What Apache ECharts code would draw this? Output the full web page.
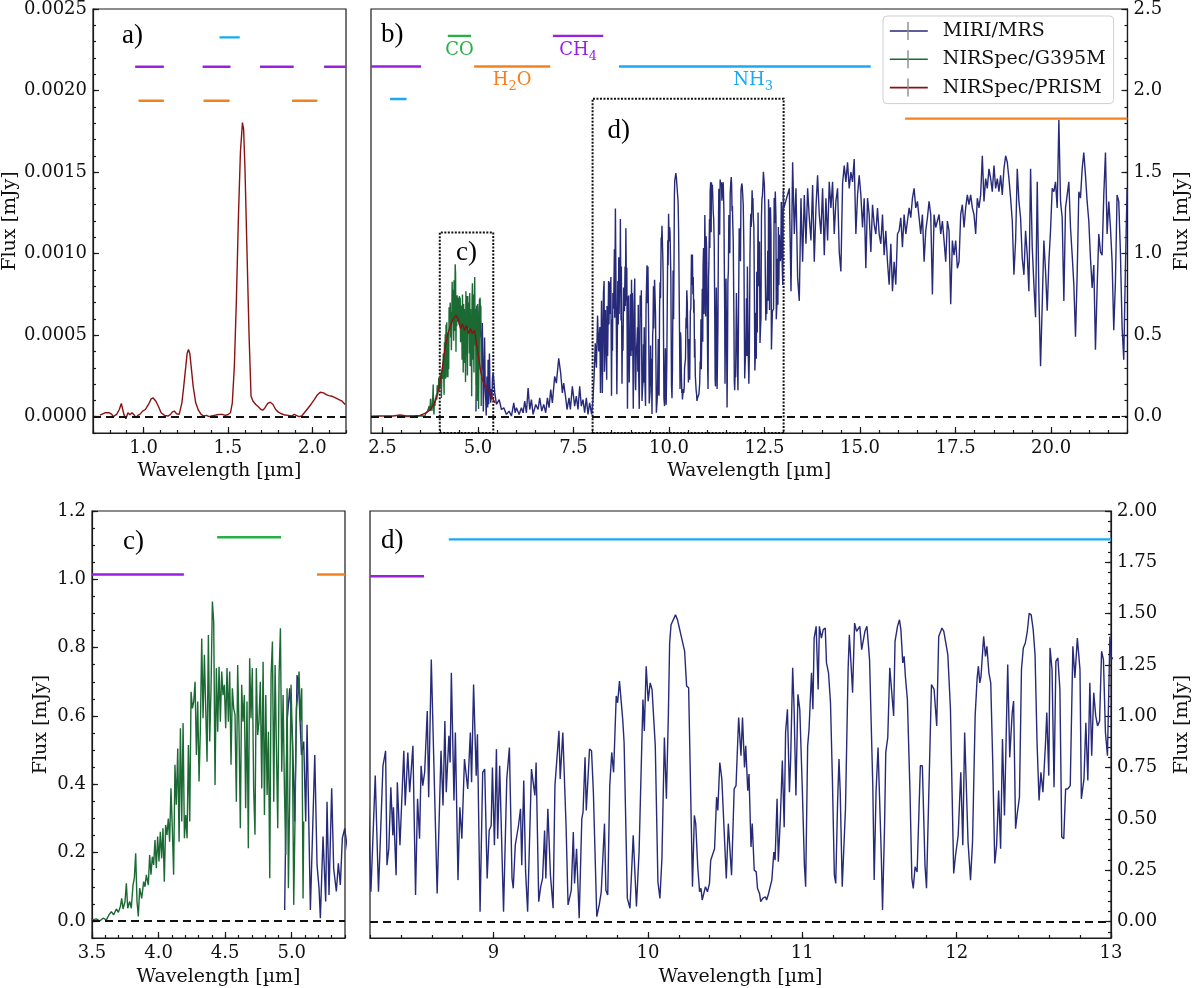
<!DOCTYPE html>
<html>
<head>
<meta charset="utf-8">
<title>Spectrum panels</title>
<script src="https://cdn.jsdelivr.net/npm/echarts@6.0.0/dist/echarts.min.js"></script>
<style>
  html, body { margin: 0; padding: 0; background: #fff; }
  #chart { width: 1200px; height: 988px; }
</style>
</head>
<body>
<div id="chart"></div>
<script>
// ---- data ----
const seriesNames = ['MIRI/MRS', 'NIRSpec/G395M', 'NIRSpec/PRISM'];

// tick values per panel
const xTicksA = [1.0, 1.5, 2.0];
const yTicksA = [0, 0.0005, 0.0010, 0.0015, 0.0020, 0.0025];
const xTicksB = [2.5, 5.0, 7.5, 10.0, 12.5, 15.0, 17.5, 20.0];
const yTicksB = [0, 0.5, 1.0, 1.5, 2.0, 2.5];
const xTicksC = [3.5, 4.0, 4.5, 5.0];
const yTicksC = [0, 0.2, 0.4, 0.6, 0.8, 1.0, 1.2];
const xTicksD = [9, 10, 11, 12, 13];
const yTicksD = [0, 0.25, 0.5, 0.75, 1.0, 1.25, 1.5, 1.75, 2.0];

// NIRSpec/PRISM, 0.7-2.2 um (panel a units)
const prismA = [
  [0.741,0.00001],[0.771,0.000024],[0.781,0.000012],[0.797,0.000024],[0.810,0.000016],[0.820,0.0],
  [0.840,0.000014],[0.856,0.000044],[0.868,0.000081],[0.876,0.000069],[0.883,0.000014],[0.895,-0.000012],
  [0.907,0.000024],[0.919,0.000012],[0.931,0.000024],[0.943,0.000012],[0.954,-0.000006],[0.966,0.000008],
  [0.978,0.000014],[0.994,0.000034],[1.010,0.000044],[1.029,0.000075],[1.045,0.000109],[1.057,0.000115],
  [1.073,0.000095],[1.089,0.000061],[1.104,0.000024],[1.124,0.000008],[1.144,0.000004],[1.160,0.000014],
  [1.171,0.000030],[1.183,0.000034],[1.195,0.000018],[1.211,0.000014],[1.227,0.000085],[1.238,0.000186],
  [1.250,0.000307],[1.258,0.000388],[1.266,0.000412],[1.274,0.000388],[1.282,0.000307],[1.294,0.000186],
  [1.309,0.000085],[1.325,0.000040],[1.341,0.000014],[1.357,0.000004],[1.373,0.000008],[1.388,0.0],
  [1.404,0.000004],[1.420,0.000008],[1.436,0.000012],[1.451,0.000014],[1.467,0.000014],[1.483,0.000008],
  [1.499,0.000012],[1.515,0.000024],[1.526,0.000085],[1.538,0.000307],[1.550,0.000711],[1.562,0.001217],
  [1.574,0.001621],[1.586,0.001803],[1.593,0.001762],[1.601,0.001520],[1.613,0.001015],[1.625,0.000509],
  [1.637,0.000125],[1.649,0.000095],[1.665,0.000075],[1.680,0.000061],[1.696,0.000044],[1.708,0.000040],
  [1.720,0.000055],[1.736,0.000081],[1.751,0.000089],[1.767,0.000075],[1.783,0.000044],[1.799,0.000028],
  [1.818,0.000018],[1.838,0.000010],[1.858,0.000008],[1.878,0.000004],[1.893,0.000014],[1.905,0.000008],
  [1.921,0.0],[1.937,0.000004],[1.953,0.000024],[1.972,0.000049],[1.992,0.000075],[2.012,0.000105],
  [2.031,0.000135],[2.047,0.000150],[2.067,0.000146],[2.083,0.000135],[2.098,0.000129],[2.118,0.000125],
  [2.138,0.000115],[2.158,0.000105],[2.177,0.000095],[2.195,0.000075]
];

// NIRSpec/PRISM, 2.2-5.45 um
const prismB = [
  [2.20,0.003],[2.435,0.004],[2.784,0.004],[2.958,0.010],[3.132,0.004],[3.306,0.004],[3.480,0.008],
  [3.611,0.020],[3.742,0.040],[3.846,0.075],[3.934,0.135],[4.003,0.206],[4.073,0.307],[4.143,0.429],
  [4.212,0.509],[4.282,0.560],[4.352,0.600],[4.421,0.621],[4.482,0.600],[4.543,0.540],[4.595,0.570],
  [4.648,0.530],[4.700,0.560],[4.752,0.509],[4.805,0.540],[4.857,0.509],[4.909,0.530],[4.961,0.449],
  [5.014,0.368],[5.066,0.287],[5.118,0.226],[5.170,0.196],[5.240,0.176],[5.310,0.146],[5.379,0.115],
  [5.449,0.085]
];

// NIRSpec/G395M
const g395m = [
  [2.90,0.002],[3.05,0.0],[3.20,0.003],[3.35,0.001],[3.45,0.004],
  [3.500,0.003],[3.533,0.006],[3.558,0.000],[3.583,0.008],[3.608,0.003],[3.625,0.016],[3.645,0.027],
  [3.663,0.018],[3.683,0.035],[3.698,0.025],[3.713,0.042],[3.723,0.066],[3.733,0.035],[3.748,0.057],
  [3.758,0.110],[3.768,0.037],[3.783,0.057],[3.795,0.037],[3.808,0.105],[3.818,0.125],[3.828,0.198],
  [3.838,0.057],[3.848,0.013],[3.858,0.096],[3.873,0.066],[3.888,0.115],[3.898,0.100],[3.908,0.135],
  [3.923,0.105],[3.933,0.193],[3.943,0.135],[3.953,0.188],[3.963,0.164],[3.973,0.237],[3.983,0.154],
  [3.993,0.247],[4.003,0.174],[4.013,0.261],[4.023,0.183],[4.033,0.271],[4.043,0.115],[4.053,0.281],
  [4.063,0.252],[4.073,0.300],[4.083,0.232],[4.093,0.388],[4.103,0.271],[4.113,0.135],[4.123,0.457],
  [4.133,0.340],[4.144,0.505],[4.154,0.232],[4.164,0.564],[4.174,0.291],[4.184,0.579],[4.194,0.242],
  [4.204,0.310],[4.214,0.242],[4.224,0.515],[4.234,0.291],[4.244,0.671],[4.254,0.622],[4.264,0.642],
  [4.274,0.700],[4.284,0.486],[4.294,0.642],[4.304,0.408],[4.314,0.564],[4.324,0.827],[4.334,0.593],
  [4.344,0.779],[4.354,0.622],[4.364,0.466],[4.374,0.837],[4.384,0.525],[4.394,0.681],[4.404,0.935],
  [4.414,0.876],[4.424,0.398],[4.434,0.740],[4.444,0.554],[4.454,0.744],[4.464,0.583],[4.474,0.730],
  [4.484,0.661],[4.494,0.691],[4.504,0.564],[4.514,0.740],[4.524,0.583],[4.534,0.730],[4.544,0.457],
  [4.554,0.681],[4.564,0.622],[4.574,0.603],[4.584,0.349],[4.594,0.749],[4.604,0.564],[4.614,0.271],
  [4.624,0.691],[4.634,0.583],[4.644,0.661],[4.654,0.330],[4.664,0.642],[4.674,0.213],[4.684,0.769],
  [4.694,0.593],[4.704,0.740],[4.714,0.388],[4.724,0.252],[4.734,0.740],[4.744,0.544],[4.754,0.583],
  [4.764,0.700],[4.775,0.388],[4.785,0.759],[4.795,0.310],[4.805,0.661],[4.815,0.369],[4.825,0.554],
  [4.835,0.125],[4.845,0.720],[4.855,0.818],[4.865,0.349],[4.875,0.749],[4.885,0.505],[4.895,0.271],
  [4.905,0.720],[4.915,0.857],[4.925,0.437],[4.935,0.661],[4.945,0.388],[4.955,0.193],[4.965,0.681],
  [4.975,0.096],[4.985,0.369],[4.995,0.691],[5.005,0.515],[5.015,0.047],[5.025,0.310],[5.035,0.622],
  [5.045,0.661],[5.055,0.730],[5.065,0.583],[5.075,0.681],[5.085,0.066],[5.090,0.291]
];

// MIRI/MRS, 4.95-8.2 um
const miriShort = [
  [4.947,0.032],[4.965,0.583],[4.985,0.681],[5.005,0.544],[5.022,0.291],[5.040,0.720],[5.055,0.661],
  [5.073,0.486],[5.090,0.525],[5.105,0.291],[5.115,0.574],[5.140,0.032],[5.173,0.486],[5.190,0.164],
  [5.205,0.096],[5.215,0.008],[5.235,0.247],[5.255,0.057],[5.265,0.349],[5.280,0.076],[5.300,0.388],
  [5.315,0.154],[5.335,0.086],[5.350,0.169],[5.365,0.105],[5.380,0.242],[5.398,0.271],
  [5.440,0.146],[5.484,0.075],[5.554,0.105],[5.615,0.044],[5.676,0.055],[5.745,0.014],[5.815,0.034],
  [5.876,0.004],[5.937,0.085],[5.972,0.024],[6.007,0.055],[6.076,0.014],[6.137,0.055],[6.181,0.024],
  [6.224,0.095],[6.268,0.024],[6.312,0.176],[6.355,0.044],[6.399,0.105],[6.442,0.014],[6.512,0.075],
  [6.573,0.044],[6.616,0.115],[6.669,0.034],[6.721,0.075],[6.773,0.024],[6.817,0.115],[6.860,0.055],
  [6.904,0.166],[6.947,0.085],[7.008,0.247],[7.052,0.206],[7.113,0.358],[7.165,0.267],[7.209,0.146],
  [7.244,0.206],[7.296,0.115],[7.331,0.044],[7.383,0.115],[7.418,0.044],[7.470,0.186],[7.531,0.065],
  [7.574,0.126],[7.618,0.044],[7.662,0.186],[7.705,0.065],[7.749,0.105],[7.792,0.024],[7.836,0.115],
  [7.880,0.014],[7.923,0.085],[7.975,0.014],[8.010,0.105],
  [8.04,0.25],[8.07,0.45],[8.10,0.30],[8.13,0.62],[8.16,0.40],[8.19,0.55]
];

// MIRI/MRS, 8.2-13 um
const miriMid = [
  [8.206,0.145],[8.234,0.711],[8.255,0.145],[8.284,0.759],[8.301,0.832],[8.310,0.275],[8.322,0.355],
  [8.335,0.654],[8.348,0.420],[8.352,0.557],[8.369,0.226],[8.377,0.679],[8.394,0.372],[8.419,0.832],
  [8.428,0.565],[8.445,0.824],[8.457,0.630],[8.478,0.856],[8.495,0.129],[8.508,0.598],[8.521,0.404],
  [8.531,0.759],[8.542,0.662],[8.554,0.727],[8.571,1.026],[8.580,0.606],[8.597,1.276],[8.613,0.792],
  [8.635,0.137],[8.660,0.832],[8.673,0.565],[8.685,0.977],[8.694,0.630],[8.711,0.905],[8.719,0.775],
  [8.727,1.212],[8.744,0.590],[8.753,0.921],[8.770,0.202],[8.782,0.557],[8.795,0.404],[8.812,0.792],
  [8.833,0.646],[8.850,0.921],[8.858,0.679],[8.871,1.155],[8.888,0.711],[8.896,0.913],[8.913,0.048],
  [8.930,0.727],[8.943,0.743],[8.959,0.210],[8.972,0.444],[8.985,0.468],[8.993,0.751],[9.006,0.372],
  [9.019,0.840],[9.027,0.404],[9.040,0.759],[9.065,0.048],[9.086,0.695],[9.103,0.848],[9.120,0.210],
  [9.128,0.162],[9.141,0.372],[9.162,0.468],[9.175,0.549],[9.183,0.275],[9.196,0.687],[9.208,0.242],
  [9.221,0.048],[9.246,0.743],[9.255,0.751],[9.268,0.614],[9.276,0.775],[9.293,0.097],[9.306,0.170],
  [9.318,0.210],[9.331,0.444],[9.339,0.210],[9.352,0.549],[9.369,0.226],[9.386,0.065],[9.398,0.662],
  [9.424,0.929],[9.432,0.695],[9.449,0.921],[9.470,0.468],[9.483,0.081],[9.504,0.153],[9.517,0.436],
  [9.525,0.186],[9.538,0.355],[9.555,0.016],[9.572,0.501],[9.580,0.533],[9.593,0.800],[9.601,0.541],
  [9.622,0.840],[9.635,0.832],[9.647,0.630],[9.669,0.024],[9.685,0.081],[9.698,0.145],[9.719,0.477],
  [9.728,0.153],[9.740,0.129],[9.753,0.662],[9.766,0.824],[9.778,0.727],[9.795,1.099],[9.804,1.066],
  [9.816,1.171],[9.837,0.985],[9.846,0.872],[9.867,0.113],[9.884,0.065],[9.905,0.420],[9.926,0.073],
  [9.943,0.339],[9.968,1.082],[9.977,0.929],[9.989,1.244],[10.002,1.074],[10.015,1.163],[10.027,1.131],
  [10.048,0.856],[10.065,0.194],[10.078,0.113],[10.091,0.307],[10.107,0.897],[10.120,0.598],[10.133,1.018],
  [10.141,1.357],[10.150,1.446],[10.162,1.446],[10.179,1.494],[10.192,1.470],[10.204,1.430],[10.221,1.373],
  [10.238,1.317],[10.251,1.147],[10.264,1.139],[10.289,0.170],[10.301,0.517],[10.310,0.477],[10.323,0.267],
  [10.335,0.145],[10.344,0.162],[10.352,0.105],[10.373,0.170],[10.386,0.145],[10.399,0.186],[10.407,0.299],
  [10.432,0.355],[10.445,0.606],[10.453,0.541],[10.466,0.775],[10.479,0.695],[10.487,0.687],[10.508,0.210],
  [10.521,0.477],[10.542,0.226],[10.559,0.646],[10.571,0.662],[10.588,0.994],[10.603,0.808],
  [10.613,0.994],[10.626,0.751],[10.634,0.856],[10.647,0.638],[10.655,0.719],[10.668,0.363],[10.676,0.477],
  [10.689,0.250],[10.702,0.242],[10.710,0.162],[10.723,0.137],[10.731,0.097],[10.744,0.113],[10.752,0.105],
  [10.761,0.121],[10.769,0.105],[10.782,0.137],[10.795,0.178],[10.803,0.202],[10.816,0.339],[10.824,0.299],
  [10.837,0.598],[10.845,0.291],[10.858,0.501],[10.871,0.784],[10.883,0.460],[10.892,0.921],[10.904,1.034],
  [10.917,0.630],[10.925,0.792],[10.938,1.236],[10.947,1.042],[10.959,0.614],[10.972,1.107],[10.984,1.034],
  [11.001,0.630],[11.014,0.275],[11.022,0.170],[11.035,0.856],[11.044,0.937],[11.060,1.212],[11.069,1.034],
  [11.077,1.381],[11.090,1.438],[11.103,1.131],[11.111,1.438],[11.124,1.381],[11.136,1.422],[11.149,1.430],
  [11.157,1.260],[11.170,1.212],[11.183,1.066],[11.195,0.703],[11.208,0.226],[11.217,0.186],[11.229,0.582],
  [11.238,0.792],[11.246,0.630],[11.259,0.170],[11.280,0.549],[11.297,1.228],[11.305,1.397],[11.318,1.228],
  [11.326,1.115],[11.339,1.454],[11.352,1.414],[11.364,1.414],[11.373,1.438],[11.385,1.325],[11.394,1.333],
  [11.406,1.414],[11.419,1.438],[11.436,1.276],[11.457,0.662],[11.466,0.202],[11.478,0.630],[11.491,0.848],
  [11.499,0.848],[11.512,0.323],[11.520,0.057],[11.533,0.460],[11.541,0.824],[11.554,0.897],[11.567,1.236],
  [11.579,1.236],[11.592,1.002],[11.601,1.365],[11.617,1.438],[11.630,1.470],[11.639,1.422],[11.651,1.260],
  [11.660,1.292],[11.668,1.195],[11.681,1.082],[11.698,0.630],[11.710,0.210],[11.719,0.162],[11.731,0.267],
  [11.744,0.242],[11.765,0.759],[11.778,0.759],[11.795,0.275],[11.805,0.162],
  [11.820,0.630],[11.837,1.155],[11.854,1.131],[11.871,0.953],[11.884,1.389],[11.905,1.430],[11.917,1.414],
  [11.943,1.300],[11.960,1.034],[11.981,0.234],[11.993,0.323],[12.010,0.420],[12.027,0.727],[12.040,0.372],
  [12.052,0.921],[12.061,0.929],[12.074,0.388],[12.090,0.202],[12.103,0.388],[12.120,1.002],[12.133,1.187],
  [12.141,1.244],[12.150,1.163],[12.158,1.195],[12.175,1.389],[12.187,1.292],[12.196,1.341],[12.209,1.212],
  [12.221,1.163],[12.234,0.775],[12.247,0.283],[12.259,0.372],[12.272,0.638],[12.285,0.355],[12.297,0.889],
  [12.310,0.517],[12.331,1.252],[12.344,0.800],[12.360,1.018],[12.369,1.074],[12.382,0.452],[12.394,0.533],
  [12.407,0.606],[12.420,1.228],[12.432,1.333],[12.445,1.357],[12.458,1.414],[12.470,1.502],[12.483,1.494],
  [12.496,1.422],[12.508,1.300],[12.521,0.872],[12.534,0.590],[12.546,0.727],[12.559,0.630],[12.576,0.872],
  [12.584,1.018],[12.597,0.711],[12.605,1.333],[12.618,1.228],[12.631,0.654],[12.643,1.268],[12.656,1.284],
  [12.669,1.131],[12.681,0.412],[12.694,0.404],[12.706,0.646],[12.719,0.646],[12.736,0.662],[12.753,1.341],
  [12.766,1.187],[12.782,1.381],[12.799,1.228],[12.808,0.598],[12.825,0.695],[12.837,0.969],[12.850,0.687],
  [12.863,1.163],[12.875,0.808],[12.888,1.115],[12.901,1.002],[12.913,0.953],[12.926,0.977],[12.939,1.317],
  [12.951,1.276],[12.964,0.921],[12.977,0.808],[12.993,1.389],[13.002,1.276]
];

// MIRI/MRS, 13.1-22 um
const miriLong = [
  [13.149,1.40],[13.193,0.77],[13.236,1.56],[13.280,1.12],[13.323,1.40],[13.367,0.85],[13.410,0.71],[13.454,1.34],[13.497,0.95],[13.541,1.36],
  [13.585,1.06],[13.628,1.40],[13.672,1.22],[13.715,1.08],[13.759,1.42],[13.802,0.95],[13.846,1.28],[13.889,1.48],[13.933,1.24],[13.976,1.12],
  [14.020,1.40],[14.064,0.99],[14.107,1.34],[14.151,1.08],[14.194,1.44],[14.238,1.28],[14.281,1.44],[14.325,1.12],[14.368,1.32],[14.412,1.40],
  [14.456,1.01],[14.499,0.89],[14.543,1.43],[14.586,1.54],[14.630,1.44],[14.673,1.56],[14.717,1.40],[14.760,1.50],[14.804,1.44],[14.847,1.58],
  [14.891,1.12],[14.935,1.36],[14.978,1.48],[15.022,1.36],[15.065,1.16],[15.109,1.34],[15.152,0.91],[15.196,1.34],[15.239,1.24],[15.283,1.01],
  [15.327,1.30],[15.370,1.18],[15.414,1.12],[15.457,1.28],[15.501,1.12],[15.544,1.06],[15.588,1.24],[15.631,0.99],[15.675,1.14],[15.718,0.95],
  [15.762,0.81],[15.806,1.06],[15.849,0.77],[15.893,0.95],[15.936,0.81],[15.980,1.12],[16.023,1.14],[16.067,1.22],[16.110,1.04],[16.154,1.24],
  [16.198,1.12],[16.241,1.20],[16.285,1.28],[16.328,1.22],[16.372,1.34],[16.415,1.40],[16.459,1.28],[16.502,1.32],[16.546,1.22],[16.589,1.12],
  [16.633,1.24],[16.677,0.95],[16.720,1.14],[16.764,1.22],[16.807,1.32],[16.851,1.24],[16.894,0.75],[16.938,1.24],[16.981,1.16],[17.025,1.20],
  [17.069,1.24],[17.112,1.12],[17.156,1.20],[17.199,1.08],[17.243,0.95],[17.286,1.20],[17.330,1.14],[17.373,0.69],[17.417,1.08],[17.460,0.99],
  [17.504,1.08],[17.548,0.91],[17.591,0.95],[17.635,1.24],[17.678,1.30],[17.722,1.16],[17.765,1.28],[17.809,1.36],[17.852,1.30],[17.896,1.36],
  [17.940,1.28],[17.983,1.24],[18.027,1.12],[18.070,1.34],[18.114,1.28],[18.157,1.36],[18.201,1.60],[18.244,1.32],[18.288,1.46],[18.331,1.40],
  [18.375,1.52],[18.419,1.46],[18.462,1.38],[18.506,1.54],[18.549,1.40],[18.593,1.46],[18.636,1.38],[18.680,1.48],[18.723,1.36],[18.767,1.52],
  [18.811,1.60],[18.854,1.56],[18.898,1.46],[18.941,1.34],[18.985,1.20],[19.028,0.87],[19.072,1.08],[19.115,1.52],[19.159,1.32],[19.202,1.22],
  [19.246,0.97],[19.290,0.87],[19.333,1.14],[19.377,0.99],[19.420,0.77],[19.464,1.52],[19.507,1.04],[19.551,0.81],[19.594,0.61],[19.638,1.44],
  [19.682,0.75],[19.725,0.31],[19.769,0.69],[19.812,1.08],[19.856,0.89],[19.899,0.65],[19.943,0.95],[19.986,1.14],[20.030,1.40],[20.073,1.38],
  [20.117,1.44],[20.161,1.28],[20.204,1.82],[20.248,1.32],[20.291,1.22],[20.335,0.71],[20.378,1.28],[20.422,1.36],[20.465,1.44],[20.509,1.16],
  [20.553,0.99],[20.596,0.81],[20.640,0.49],[20.683,0.87],[20.727,1.38],[20.770,1.34],[20.814,1.52],[20.857,1.62],[20.901,1.48],[20.944,1.32],
  [20.988,1.20],[21.032,0.97],[21.075,0.79],[21.119,0.93],[21.162,0.41],[21.206,0.79],[21.249,1.12],[21.293,1.01],[21.336,0.99],[21.380,1.36],
  [21.424,1.62],[21.467,1.12],[21.511,1.32],[21.554,1.16],[21.598,0.95],[21.641,0.53],[21.685,0.83],[21.728,1.36],[21.772,1.32],[21.815,1.01],
  [21.859,0.55],[21.903,0.35],[21.946,0.91],[21.990,1.40]
];

const miri = miriShort.concat(miriMid, miriLong);

// molecular band markers: [molecule, start um, end um, row]
const bandsA = [['NH3',1.45,1.57,0],['CH4',0.95,1.12,1],['CH4',1.35,1.515,1],['CH4',1.69,1.89,1],['CH4',2.07,2.2,1],
                ['H2O',0.97,1.12,2],['H2O',1.355,1.51,2],['H2O',1.88,2.03,2]];
const bandsB = [['CH4',2.2,3.51,1],['NH3',2.70,3.13,2],['CO',4.21,4.82,0],['H2O',4.90,6.89,1],
                ['CH4',6.96,8.28,0],['NH3',8.69,15.28,1],['H2O',16.18,22.0,3]];
const bandsC = [['CH4',3.5,4.19,1],['CO',4.44,4.92,0],['H2O',5.19,5.4,1]];
const bandsD = [['CH4',8.2,8.55,1],['NH3',8.71,13.0,0]];
// molecule names written in panel b: [text, centre um, row]
const labelsB = [['CO',4.515,0],['H2O',5.895,1],['CH4',7.62,0],['NH3',12.2,1]];
// zoom boxes drawn in panel b: [start um, end um, top mJy]
const boxC = [4.0, 5.4, 1.13];
const boxD = [8.0, 13.0, 1.95];

// ---- styling ----
const FONT = 'DejaVu Serif';
const INK = '#1a1a1a';
const colMiri = '#262a78', colG395 = '#1b6a34', colPrism = '#8b1212';
const seriesColors = [colMiri, colG395, colPrism];
const molColor = { NH3: '#18aaf4', CH4: '#9a1fe0', CO: '#26b046', H2O: '#f3821e' };
const molRich = { NH3: ['NH', '3', ''], CH4: ['CH', '4', ''], CO: ['CO', '', ''], H2O: ['H', '2', 'O'] };
const bandLevels = [
  [0.002326, 0.002146, 0.001937],
  [2.335, 2.147, 1.948, 1.828],
  [1.123, 1.014],
  [1.862, 1.682]
];

const chart = echarts.init(document.getElementById('chart'));

const grids = [
  { left: 93, top: 5, width: 253, height: 428 },
  { left: 371, top: 5, width: 758, height: 428 },
  { left: 92, top: 511, width: 253, height: 429 },
  { left: 370, top: 511, width: 758, height: 429 }
].map(g => Object.assign(g, { show: true, borderColor: INK, borderWidth: 1.2, backgroundColor: 'transparent' }));

function steps(min, max, step) {
  const out = [];
  for (let i = Math.ceil(min / step - 1e-6); i * step <= max + 1e-9; i++) out.push(+(i * step).toFixed(6));
  return out;
}

const xAxes = [], yAxes = [];
function addAxes(p) {
  const ax = { xi: xAxes.length, yi: yAxes.length };
  const tickLine = { color: INK, width: 1.2 };
  const lbl = { color: '#111', fontFamily: FONT, fontSize: 18 };
  const nameStyle = { fontFamily: FONT, fontSize: 19, color: '#111' };
  xAxes.push({
    type: 'value', gridIndex: p.grid, min: p.x[0], max: p.x[1], position: 'bottom',
    splitLine: { show: false },
    axisLine: { show: true, onZero: false, lineStyle: tickLine },
    axisTick: { show: true, inside: true, length: 6, customValues: p.xMajor, lineStyle: tickLine },
    axisLabel: Object.assign({ customValues: p.xMajor, formatter: p.xFmt, margin: 6 }, lbl),
    name: 'Wavelength [µm]', nameLocation: 'middle', nameGap: p.xGap, nameTextStyle: nameStyle
  });
  xAxes.push({
    type: 'value', gridIndex: p.grid, min: p.x[0], max: p.x[1], position: 'bottom',
    splitLine: { show: false }, axisLine: { show: false, onZero: false },
    axisTick: { show: true, inside: true, length: 3, customValues: steps(p.x[0], p.x[1], p.xMinor), lineStyle: tickLine },
    axisLabel: { show: false }
  });
  yAxes.push({
    type: 'value', gridIndex: p.grid, min: p.y[0], max: p.y[1], position: p.yPos,
    splitLine: { show: false },
    axisLine: { show: true, onZero: false, lineStyle: tickLine },
    axisTick: { show: true, inside: true, length: 6, customValues: p.yMajor, lineStyle: tickLine },
    axisLabel: Object.assign({ customValues: p.yMajor, formatter: p.yFmt, margin: 6 }, lbl),
    name: 'Flux [mJy]', nameLocation: 'middle', nameGap: p.yGap, nameTextStyle: nameStyle
  });
  yAxes.push({
    type: 'value', gridIndex: p.grid, min: p.y[0], max: p.y[1], position: p.yPos,
    splitLine: { show: false }, axisLine: { show: false, onZero: false },
    axisTick: { show: true, inside: true, length: 3, customValues: steps(p.y[0], p.y[1], p.yMinor), lineStyle: tickLine },
    axisLabel: { show: false }
  });
  return ax;
}

const f1 = v => v.toFixed(1);
const axA = addAxes({ grid: 0, x: [0.7, 2.2], y: [-0.0001, 0.0025], xMajor: xTicksA, yMajor: yTicksA,
  xMinor: 0.1, yMinor: 0.0001, yPos: 'left', xFmt: f1, yFmt: v => v.toFixed(4), xGap: 29, yGap: 73 });
const axB = addAxes({ grid: 1, x: [2.2, 22], y: [-0.1, 2.5], xMajor: xTicksB, yMajor: yTicksB,
  xMinor: 0.5, yMinor: 0.1, yPos: 'right', xFmt: f1, yFmt: f1, xGap: 29, yGap: 42 });
const axC = addAxes({ grid: 2, x: [3.5, 5.4], y: [-0.05, 1.2], xMajor: xTicksC, yMajor: yTicksC,
  xMinor: 0.1, yMinor: 0.05, yPos: 'left', xFmt: f1, yFmt: f1, xGap: 30, yGap: 41 });
const axD = addAxes({ grid: 3, x: [8.2, 13], y: [-0.08, 2.0], xMajor: xTicksD, yMajor: yTicksD,
  xMinor: 0.2, yMinor: 0.05, yPos: 'right', xFmt: v => String(Math.round(v)), yFmt: v => v.toFixed(2), xGap: 30, yGap: 62 });

const zeroLine = {
  silent: true, symbol: ['none', 'none'], label: { show: false },
  lineStyle: { color: '#111', type: [8, 5], width: 1.8 }, data: [{ yAxis: 0 }]
};

function spectrum(name, data, ax, color, z, extra) {
  return Object.assign({
    name, type: 'line', data, xAxisIndex: ax.xi, yAxisIndex: ax.yi,
    symbol: 'none', showSymbol: false, silent: true, z,
    lineStyle: { color, width: 1.4 }, itemStyle: { color }
  }, extra || {});
}

function bandSeries(bands, ax, levels) {
  return bands.map(([mol, x0, x1, row]) => ({
    type: 'line', xAxisIndex: ax.xi, yAxisIndex: ax.yi, silent: true, symbol: 'none', z: 6,
    data: [[x0, levels[row]], [x1, levels[row]]],
    lineStyle: { color: molColor[mol], width: 2.4 }
  }));
}

const series = [
  spectrum(seriesNames[2], prismA, axA, colPrism, 4, { markLine: zeroLine }),
  spectrum(seriesNames[0], miri, axB, colMiri, 2, {
    markLine: zeroLine,
    markArea: {
      silent: true,
      itemStyle: { color: 'rgba(0,0,0,0)', borderColor: '#111', borderWidth: 2, borderType: [2, 1.5] },
      label: { show: true, color: '#000', fontFamily: 'Liberation Serif', fontSize: 27 },
      data: [
        [{ name: 'c)', xAxis: boxC[0], yAxis: -0.1, label: { position: ['50%', 8], align: 'center' } },
         { xAxis: boxC[1], yAxis: boxC[2] }],
        [{ name: 'd)', xAxis: boxD[0], yAxis: -0.1, label: { position: [16, 20] } },
         { xAxis: boxD[1], yAxis: boxD[2] }]
      ]
    }
  }),
  spectrum(seriesNames[1], g395m, axB, colG395, 3),
  spectrum(seriesNames[2], prismB, axB, colPrism, 4),
  spectrum(seriesNames[0], miri, axC, colMiri, 2, { markLine: zeroLine }),
  spectrum(seriesNames[1], g395m, axC, colG395, 3),
  spectrum(seriesNames[0], miri, axD, colMiri, 2, { markLine: zeroLine })
].concat(
  bandSeries(bandsA, axA, bandLevels[0]),
  bandSeries(bandsB, axB, bandLevels[1]),
  bandSeries(bandsC, axC, bandLevels[2]),
  bandSeries(bandsD, axD, bandLevels[3])
);

const panelLetters = [['a)', 122, 22], ['b)', 381, 21], ['c)', 123, 528], ['d)', 381, 527]];

const option = {
  backgroundColor: '#fff',
  animation: false,
  grid: grids,
  xAxis: xAxes,
  yAxis: yAxes,
  legend: {
    data: seriesNames.map((n, i) => ({
      name: n, itemStyle: { opacity: 0 }, lineStyle: { color: seriesColors[i], width: 1.6 }
    })),
    orient: 'vertical', left: 883, top: 16,
    itemWidth: 38, itemHeight: 14, itemGap: 8.3,
    padding: [5, 8, 6, 6],
    backgroundColor: 'rgba(255,255,255,0.85)', borderColor: '#cfcfcf', borderWidth: 1, borderRadius: 4,
    textStyle: { fontFamily: FONT, fontSize: 19, lineHeight: 20, color: '#111', padding: [0, 0, 0, 10] },
    selectedMode: false
  },
  series: series,
  graphic: panelLetters.map(([t, x, y]) => ({
    type: 'text', left: x, top: y, silent: true,
    style: { text: t, fontFamily: 'Liberation Serif', fontSize: 27, fill: '#000' }
  }))
};

chart.setOption(option);

// molecule names under their bands in panel b, plus grey error ticks of the legend
const extra = labelsB.map(([mol, xc, row]) => {
  const p = chart.convertToPixel({ xAxisIndex: axB.xi, yAxisIndex: axB.yi }, [xc, bandLevels[1][row]]);
  const parts = molRich[mol];
  const c = molColor[mol];
  let text = '{m|' + parts[0] + '}';
  if (parts[1]) text += '{s|' + parts[1] + '}';
  if (parts[2]) text += '{m|' + parts[2] + '}';
  return {
    type: 'text', x: p[0], y: p[1] + 5, silent: true, z: 10,
    style: {
      text, align: 'center', verticalAlign: 'top', fill: c,
      rich: {
        m: { fontFamily: FONT, fontSize: 18, lineHeight: 22, padding: [0, 0, 4, 0], verticalAlign: 'bottom', fill: c },
        s: { fontFamily: FONT, fontSize: 13, lineHeight: 15, verticalAlign: 'bottom', fill: c }
      }
    }
  };
});
[31, 59.3, 87.6].forEach(y => extra.push({
  type: 'line', silent: true, z: 100,
  shape: { x1: 908, y1: y - 9, x2: 908, y2: y + 9 },
  style: { stroke: '#8a8a8a', lineWidth: 1.4 }
}));
chart.setOption({ graphic: option.graphic.concat(extra) });
</script>
</body>
</html>
